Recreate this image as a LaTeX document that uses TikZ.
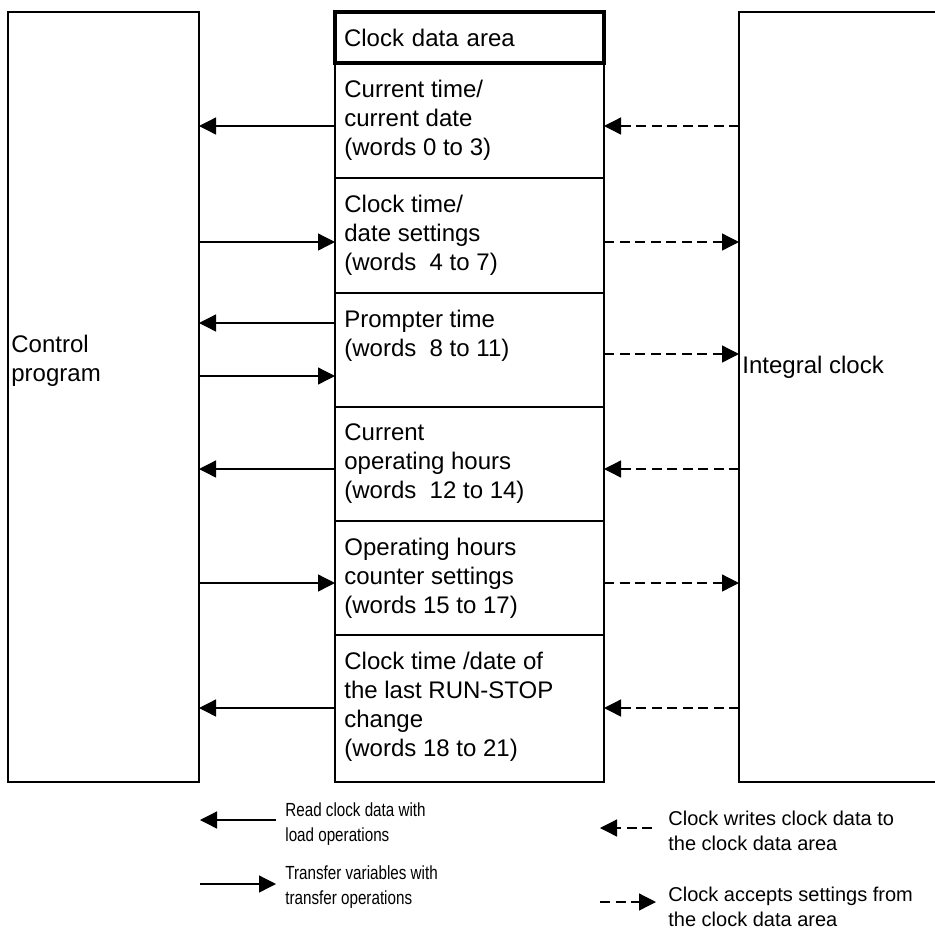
\documentclass[tikz,border=0pt]{standalone}
\usepackage{fontspec}
\setmainfont{Liberation Sans}
\newfontfamily\narrowsans[FakeStretch=0.8]{Liberation Sans}
\usetikzlibrary{arrows.meta,positioning}
\tikzset{
  box/.style={draw, line width=0.65pt, outer sep=0pt, inner sep=0pt},
  areacell/.style={box, minimum width=134.5pt, anchor=north},
  titlecell/.style={areacell, line width=2pt, minimum height=25.5pt, text width=125.5pt, align=left, font=\fontsize{12pt}{14.5pt}\selectfont},
  celltext/.style={anchor=north west, align=left, inner xsep=4.5pt, inner ysep=8.2pt, font=\fontsize{12pt}{14.5pt}\selectfont},
  sidetext/.style={anchor=west, align=left, inner sep=0pt, font=\fontsize{12pt}{14.5pt}\selectfont},
  legendtext/.style={anchor=west, align=left, inner sep=0pt, font=\fontsize{10pt}{12.5pt}\selectfont},
  narrowlegend/.style={legendtext, font=\narrowsans\fontsize{9.5pt}{12.5pt}\selectfont},
  solidarrow/.style={-{Triangle[length=8.5pt,width=8.5pt]}, line width=0.65pt},
  dashedarrow/.style={solidarrow, dash pattern=on 5pt off 2.75pt}
}
\begin{document}
\begin{tikzpicture}[x=0.5pt, y=-0.5pt]
  \useasboundingbox (0,0) rectangle (935,944);
  \clip (0,0) rectangle (935,944);
  % side blocks
  \node[box, anchor=north west, minimum width=95.5pt, minimum height=385pt] (ctrl) at (8,12) {};
  \node[box, anchor=north west, minimum width=115pt, minimum height=385pt] (clock) at (739,12) {};
  \node[sidetext] (ctrltext) at ([xshift=1.5pt,yshift=18pt]ctrl.west) {Control\\program};
  \node[sidetext] (clocktext) at ([xshift=1.5pt,yshift=15pt]clock.west) {Integral clock};
  % clock data area
  \node[titlecell] (title) at (469.5,12) {Clock data area};
  \node[areacell, minimum height=57.5pt, below=0pt of title] (cur) {};
  \node[areacell, minimum height=57.5pt, below=0pt of cur] (set) {};
  \node[areacell, minimum height=57pt, below=0pt of set] (prompt) {};
  \node[areacell, minimum height=57pt, below=0pt of prompt] (hours) {};
  \node[areacell, minimum height=57pt, below=0pt of hours] (opset) {};
  \node[areacell, minimum height=73.5pt, below=0pt of opset] (stop) {};
  \node[celltext] (curtext) at (cur.north west) {Current time/\\current date\\(words 0 to 3)};
  \node[celltext] (settext) at (set.north west) {Clock time/\\date settings\\(words\ \ 4 to 7)};
  \node[celltext] (prompttext) at (prompt.north west) {Prompter time\\(words\ \ 8 to 11)};
  \node[celltext] (hourstext) at (hours.north west) {Current\\operating hours\\(words\ \ 12 to 14)};
  \node[celltext] (opsettext) at (opset.north west) {Operating hours\\counter settings\\(words 15 to 17)};
  \node[celltext] (stoptext) at (stop.north west) {Clock time /date of\\the last RUN-STOP\\change\\(words 18 to 21)};
  % control program side
  \draw[solidarrow] ([yshift=-31.5pt]cur.north west) -- ([yshift=-31.5pt]cur.north west -| ctrl.east);
  \draw[solidarrow] ([yshift=-32pt]set.north west -| ctrl.east) -- ([yshift=-32pt]set.north west);
  \draw[solidarrow] ([yshift=-15pt]prompt.north west) -- ([yshift=-15pt]prompt.north west -| ctrl.east);
  \draw[solidarrow] ([yshift=-41.5pt]prompt.north west -| ctrl.east) -- ([yshift=-41.5pt]prompt.north west);
  \draw[solidarrow] ([yshift=-31pt]hours.north west) -- ([yshift=-31pt]hours.north west -| ctrl.east);
  \draw[solidarrow] ([yshift=-31pt]opset.north west -| ctrl.east) -- ([yshift=-31pt]opset.north west);
  \draw[solidarrow] ([yshift=-36.5pt]stop.north west) -- ([yshift=-36.5pt]stop.north west -| ctrl.east);
  % integral clock side
  \draw[dashedarrow] ([yshift=-31.5pt]cur.north east -| clock.west) -- ([yshift=-31.5pt]cur.north east);
  \draw[dashedarrow] ([yshift=-32pt]set.north east) -- ([yshift=-32pt]set.north east -| clock.west);
  \draw[dashedarrow] ([yshift=-30.5pt]prompt.north east) -- ([yshift=-30.5pt]prompt.north east -| clock.west);
  \draw[dashedarrow] ([yshift=-31pt]hours.north east -| clock.west) -- ([yshift=-31pt]hours.north east);
  \draw[dashedarrow] ([yshift=-31pt]opset.north east) -- ([yshift=-31pt]opset.north east -| clock.west);
  \draw[dashedarrow] ([yshift=-36.5pt]stop.north east -| clock.west) -- ([yshift=-36.5pt]stop.north east);
  % legend
  \coordinate (readtip) at (200,820);
  \coordinate (readend) at (276,820);
  \draw[solidarrow] (readend) -- (readtip);
  \node[narrowlegend] (readtext) at ([xshift=4.5pt,yshift=-2pt]readend) {Read clock data with\\load operations};
  \coordinate (xferstart) at (200,884);
  \coordinate (xfertip) at (276,884);
  \draw[solidarrow] (xferstart) -- (xfertip);
  \node[narrowlegend] (xfertext) at ([xshift=4.5pt,yshift=-1.5pt]xfertip) {Transfer variables with\\transfer operations};
  \coordinate (writetip) at (600,828);
  \coordinate (writeend) at (652,828);
  \draw[dashedarrow] (writeend) -- (writetip);
  \node[legendtext] (writetext) at ([xshift=8pt,yshift=-1.5pt]writeend) {Clock writes clock data to\\the clock data area};
  \coordinate (acceptstart) at (600,902);
  \coordinate (accepttip) at (656,902);
  \draw[dashedarrow] (acceptstart) -- (accepttip);
  \node[legendtext] (accepttext) at ([xshift=6pt,yshift=-2.5pt]accepttip) {Clock accepts settings from\\the clock data area};
\end{tikzpicture}
\end{document}
